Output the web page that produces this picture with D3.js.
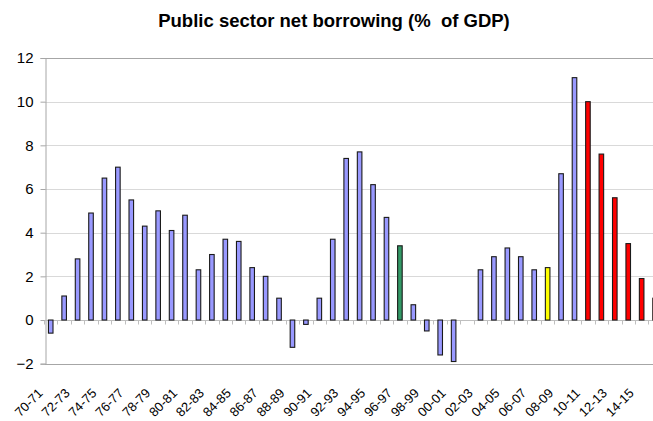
<!DOCTYPE html>
<html>
<head>
<meta charset="utf-8">
<script src="https://cdn.jsdelivr.net/npm/d3@7"></script>
<style>
  html, body { margin: 0; padding: 0; background: #fff; }
  svg { display: block; font-family: "Liberation Sans", Arial, sans-serif; }
</style>
</head>
<body>
<svg id="chart" width="653" height="421"></svg>
<script>
// Fiscal years shown on the category axis
const categories = [
  "70-71","71-72","72-73","73-74","74-75","75-76","76-77","77-78","78-79","79-80",
  "80-81","81-82","82-83","83-84","84-85","85-86","86-87","87-88","88-89","89-90",
  "90-91","91-92","92-93","93-94","94-95","95-96","96-97","97-98","98-99","99-00",
  "00-01","01-02","02-03","03-04","04-05","05-06","06-07","07-08","08-09","09-10",
  "10-11","11-12","12-13","13-14","14-15","15-16"
];

// Public sector net borrowing, % of GDP
const borrowing = [
  -0.6, 1.1, 2.8, 4.9, 6.5, 7.0, 5.5, 4.3, 5.0, 4.1,
   4.8, 2.3, 3.0, 3.7, 3.6, 2.4, 2.0, 1.0, -1.25, -0.2,
   1.0, 3.7, 7.4, 7.7, 6.2, 4.7, 3.4, 0.7, -0.5, -1.6,
  -1.9, 0.0, 2.3, 2.9, 3.3, 2.9, 2.3, 2.4, 6.7, 11.1,
  10.0, 7.6, 5.6, 3.5, 1.9, 1.0
];

// Highlighted years
const greenYears = ["96-97"];
const yellowYears = ["07-08"];
const forecastYears = ["10-11","11-12","12-13","13-14","14-15","15-16"];

// Labelled categories on the x axis (every other year)
const tickLabels = [
  "70-71","72-73","74-75","76-77","78-79","80-81","82-83","84-85","86-87","88-89",
  "90-91","92-93","94-95","96-97","98-99","00-01","02-03","04-05","06-07","08-09",
  "10-11","12-13","14-15"
];

const yTicks = [-2, 0, 2, 4, 6, 8, 10, 12];

const title = "Public sector net borrowing (%  of GDP)";

const data = categories.map((c, i) => ({ cat: c, value: borrowing[i] }));

const svg = d3.select("#chart");

const plotLeft = 44, plotRight = 661.8, plotTop = 58, plotBottom = 363.7;

const x = d3.scaleBand().domain(categories).range([plotLeft, plotRight]).paddingInner(0.66).paddingOuter(0.33);
const y = d3.scaleLinear().domain([-2, 12]).range([plotBottom, plotTop]);
const step = x.step();

function barColor(c) {
  if (greenYears.includes(c)) return "#339966";
  if (yellowYears.includes(c)) return "#ffff00";
  if (forecastYears.includes(c)) return "#ff0000";
  return "#9999ff";
}

// Title
svg.append("text")
  .attr("x", 334).attr("y", 27)
  .attr("text-anchor", "middle")
  .attr("xml:space", "preserve")
  .style("white-space", "pre")
  .attr("font-size", 18.5).attr("font-weight", "bold")
  .attr("fill", "#000")
  .text(title);

// Horizontal gridlines
svg.append("g")
  .selectAll("line")
  .data(yTicks.filter(t => t > 0 && t < 12))
  .join("line")
  .attr("x1", plotLeft + 1).attr("x2", 653)
  .attr("y1", d => Math.round(y(d)) + 0.5).attr("y2", d => Math.round(y(d)) + 0.5)
  .attr("stroke", "#d9d9d9").attr("stroke-width", 1);

// Borders at the axis maximum and minimum
svg.append("g")
  .selectAll("line")
  .data([12, -2])
  .join("line")
  .attr("x1", plotLeft + 1).attr("x2", 653)
  .attr("y1", d => Math.round(y(d)) + 0.5).attr("y2", d => Math.round(y(d)) + 0.5)
  .attr("stroke", "#a6a6a6").attr("stroke-width", 1);

// Y axis
const yAxis = d3.axisLeft(y).tickValues(yTicks).tickSize(5).tickPadding(7).tickFormat(d3.format("d"));
const gy = svg.append("g").attr("transform", `translate(${plotLeft + 1.5},0)`).call(yAxis);
gy.select(".domain").attr("stroke", "#a6a6a6");
gy.selectAll(".tick line").attr("stroke", "#a6a6a6");
gy.selectAll(".tick text")
  .attr("font-size", 15).attr("fill", "#000")
  .attr("font-family", "'Liberation Sans', Arial, sans-serif");

// Category axis along zero, with a tick between categories
const y0 = Math.round(y(0)) + 0.5;
const gx = svg.append("g");
gx.append("line")
  .attr("x1", plotLeft + 1).attr("x2", 653)
  .attr("y1", y0).attr("y2", y0)
  .attr("stroke", "#bfbfbf").attr("stroke-width", 1);
gx.selectAll("line.tk")
  .data(categories)
  .join("line")
  .attr("class", "tk")
  .attr("x1", d => Math.round(x(d) - step * x.paddingOuter()) + 0.5)
  .attr("x2", d => Math.round(x(d) - step * x.paddingOuter()) + 0.5)
  .attr("y1", y0).attr("y2", y0 + 4)
  .attr("stroke", "#bfbfbf").attr("stroke-width", 1);

// Bars
svg.append("g")
  .selectAll("rect")
  .data(data.filter(d => d.value !== 0))
  .join("rect")
  .attr("x", d => x(d.cat))
  .attr("width", x.bandwidth())
  .attr("y", d => y(Math.max(0, d.value)))
  .attr("height", d => Math.abs(y(d.value) - y(0)))
  .attr("fill", d => barColor(d.cat))
  .attr("stroke", "#1a1a1a").attr("stroke-width", 1.1);

// Rotated category labels
svg.append("g")
  .selectAll("text")
  .data(tickLabels)
  .join("text")
  .attr("transform", d => `translate(${x(d) + x.bandwidth() / 2 - 7},394) rotate(-45)`)
  .attr("text-anchor", "end")
  .attr("font-size", 13).attr("fill", "#000")
  .text(d => d);
</script>
</body>
</html>
